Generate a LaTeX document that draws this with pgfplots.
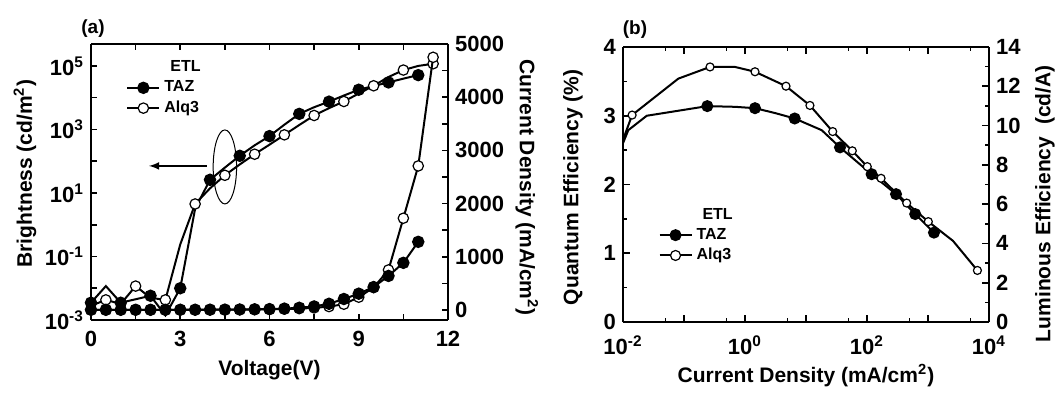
\documentclass[border=0pt]{standalone}
\usepackage{fontspec}
\setmainfont{Liberation Sans}
\usepackage{pgfplots}
\pgfplotsset{compat=1.18}
\pgfplotsset{
  mystyle/.style={
    scale only axis,
    axis line style={line width=1pt},
    every tick/.style={line width=0.8pt, black},
    tick align=inside,
    major tick length=3pt,
    minor tick length=3pt,
    tick label style={font=\fontsize{11}{13}\selectfont\bfseries},
    xticklabel style={yshift=-2pt},
    label style={font=\fontsize{10.5}{12}\selectfont\bfseries},
    /pgf/number format/assume math mode=true,
    /pgf/number format/1000 sep={},
    legend style={draw=none, fill=none, font=\fontsize{8}{9}\selectfont\bfseries,
      row sep=-1pt, inner sep=0pt},
    legend cell align=left,
    legend image code/.code={
      \draw[##1, mark=none] (0pt,0pt) -- (16pt,0pt);
      \draw[##1, only marks] plot coordinates {(8pt,0pt)};
    },
  },
  lineA/.style={black, line width=1pt},
}
\begin{document}
\begin{tikzpicture}
\useasboundingbox (0,0) rectangle (528pt,196pt);
% ---------------- panel (a) ----------------
\begin{axis}[mystyle,
  at={(45.5pt,36pt)}, anchor=south west, width=178.5pt, height=138pt,
  xmin=0, xmax=12, xtick={0,3,6,9,12}, minor xtick={1.5,4.5,7.5,10.5},
  ymode=log, ymin=1e-3, ymax=4.9e5,
  ytick={1e-3,1e-2,1e-1,1,10,100,1e3,1e4,1e5},
  yticklabels={10\textsuperscript{-3},,10\textsuperscript{-1},,10\textsuperscript{1},,10\textsuperscript{3},,10\textsuperscript{5}},
  yminorticks=false,
  axis y line*=left,
  xlabel={Voltage(V)},
  ylabel={Brightness (cd/m\textsuperscript{2})},
  xlabel style={at={(axis description cs:0.5,-0.181)}, anchor=center},
  ylabel style={at={(axis description cs:-0.185,0.53)}, anchor=center},
  legend style={at={(axis description cs:0.098,0.955)}, anchor=north west},
]
\addlegendimage{empty legend}\addlegendentry{\hspace{3pt}ETL}
\addlegendimage{lineA, mark=*, mark size=2.6pt}\addlegendentry{TAZ}
\addlegendimage{lineA, mark=*, mark size=2.6pt, mark options={fill=white, line width=0.6pt}}\addlegendentry{Alq3}
% TAZ brightness
\addplot[lineA, mark=*, mark size=2.6pt, mark repeat=2, mark phase=1, forget plot] coordinates {
(0,3.5e-3) (0.5,1.17e-2) (1,3.5e-3) (1.5,4.5e-3) (2,5.8e-3) (2.5,1.4e-3) (3,1.0e-2) (3.5,3.2) (4,26) (4.5,63) (5,148) (5.5,316) (6,617) (6.5,1410) (7,3090) (7.5,5010) (8,7500) (8.5,11700) (9,17800) (9.5,23400) (10,30200) (10.5,39800) (11,51300)};
% Alq3 brightness
\addplot[lineA, mark=*, mark size=2.6pt, mark repeat=2, mark phase=2, mark options={fill=white, line width=0.6pt}, forget plot] coordinates {
(0,2.8e-3) (0.5,4.3e-3) (1,3.2e-3) (1.5,1.17e-2) (2,5.0e-3) (2.5,4.3e-3) (3,0.24) (3.5,4.5) (4,14) (4.5,36) (5,79) (5.5,166) (6,331) (6.5,676) (7,1380) (7.5,2750) (8,4680) (8.5,7590) (9,13500) (9.5,23700) (10,44700) (10.5,74100) (11,100000) (11.5,117000)};
\draw[line width=0.5pt] (axis cs:4.5,66) ellipse [x radius=5.85pt, y radius=18.5pt];
\draw[line width=0.75pt, -latex] (axis cs:3.89,71) -- (axis cs:1.95,71);
\end{axis}
\begin{axis}[mystyle,
  at={(45.5pt,36pt)}, anchor=south west, width=178.5pt, height=138pt,
  xmin=0, xmax=12, axis x line=none, axis y line*=right,
  ymin=-190, ymax=5000, ytick={0,1000,...,5000}, minor ytick={500,1500,2500,3500,4500},
  ylabel={Current Density (mA/cm\textsuperscript{2})},
  ylabel style={at={(axis description cs:1.221,0.48)}, anchor=center, rotate=180},
]
\addplot[lineA, mark=*, mark size=2.6pt, mark options={fill=white, line width=0.6pt}] coordinates {
(0,1) (0.5,1) (1,1) (1.5,1) (2,1) (2.5,1) (3,2) (3.5,2) (4,3) (4.5,4) (5,6) (5.5,8) (6,11) (6.5,16) (7,24) (7.5,38) (8,62) (8.5,107) (9,239) (9.5,420) (10,752) (10.5,1724) (11,2707) (11.5,4750)};
\addplot[lineA, mark=*, mark size=2.6pt] coordinates {
(0,2) (0.5,2) (1,2) (1.5,2) (2,2) (2.5,2) (3,3) (3.5,3) (4,4) (4.5,5) (5,8) (5.5,11) (6,15) (6.5,24) (7,40) (7.5,65) (8,115) (8.5,205) (9,305) (9.5,430) (10,639) (10.5,885) (11,1280)};
\end{axis}
\node[font=\fontsize{9.5}{11}\selectfont\bfseries] at (46.5pt,181.75pt) {(a)};
% ---------------- panel (b) ----------------
\begin{axis}[mystyle,
  at={(311.5pt,35pt)}, anchor=south west, width=183pt, height=137.5pt,
  xmode=log, xmin=1e-2, xmax=1e4,
  xtick={1e-2,1e-1,1,10,100,1e3,1e4},
  xticklabels={10\textsuperscript{-2},,10\textsuperscript{0},,10\textsuperscript{2},,10\textsuperscript{4}},
  minor xtick={5e-2,5e-1,5,50,500,5000},
  xticklabel style={yshift=-1.5pt},
  major tick length=3.5pt, minor tick length=2pt,
  ymin=0, ymax=4, ytick={0,1,2,3,4}, minor y tick num=1,
  axis y line*=left,
  xlabel={Current Density (mA/cm\textsuperscript{2})},
  ylabel={Quantum Efficiency (\%)},
  xlabel style={at={(axis description cs:0.5,-0.196)}, anchor=center},
  ylabel style={at={(axis description cs:-0.137,0.49)}, anchor=center},
  legend style={at={(axis description cs:0.096,0.43)}, anchor=north west},
]
\addlegendimage{empty legend}\addlegendentry{\hspace{3pt}ETL}
\addlegendimage{lineA, mark=*, mark size=2.5pt}\addlegendentry{TAZ}
\addlegendimage{lineA, mark=*, mark size=2.5pt, mark options={fill=white, line width=0.6pt}}\addlegendentry{Alq3}
\addplot[lineA, mark=*, mark size=2.5pt, mark indices={4,6,8,10,11,12,13,14}, forget plot] coordinates {
(0.01,2.6) (0.0122,2.79) (0.0245,3.0) (0.241,3.14) (0.686,3.13) (1.459,3.11) (3.09,3.04) (6.53,2.96) (18.1,2.79) (36.1,2.54) (119,2.15) (299,1.86) (617,1.57) (1253,1.30)};
\addplot[lineA, mark=*, mark size=2pt, mark options={fill=white, line width=0.6pt}, mark indices={2,4,6,7,8,9,10,11,12,13,14,16}, forget plot] coordinates {
(0.01,2.65) (0.0141,3.01) (0.0807,3.54) (0.267,3.71) (0.686,3.71) (1.459,3.64) (4.70,3.43) (11.6,3.15) (27.4,2.77) (57.4,2.49) (101,2.26) (170,2.09) (447,1.73) (1012,1.46) (2570,1.18) (6457,0.75)};
\end{axis}
\begin{axis}[mystyle,
  at={(311.5pt,35pt)}, anchor=south west, width=183pt, height=137.5pt,
  xmode=log, xmin=1e-2, xmax=1e4, axis x line=none, axis y line*=right,
  major tick length=3.5pt, minor tick length=2pt,
  ymin=0, ymax=14, ytick={0,2,...,14}, minor y tick num=1,
  ylabel={Luminous Efficiency\ \ (cd/A)},
  ylabel style={at={(axis description cs:1.153,0.43)}, anchor=center},
]
\end{axis}
\node[font=\fontsize{9.5}{11}\selectfont\bfseries] at (317.5pt,181pt) {(b)};
\end{tikzpicture}
\end{document}
